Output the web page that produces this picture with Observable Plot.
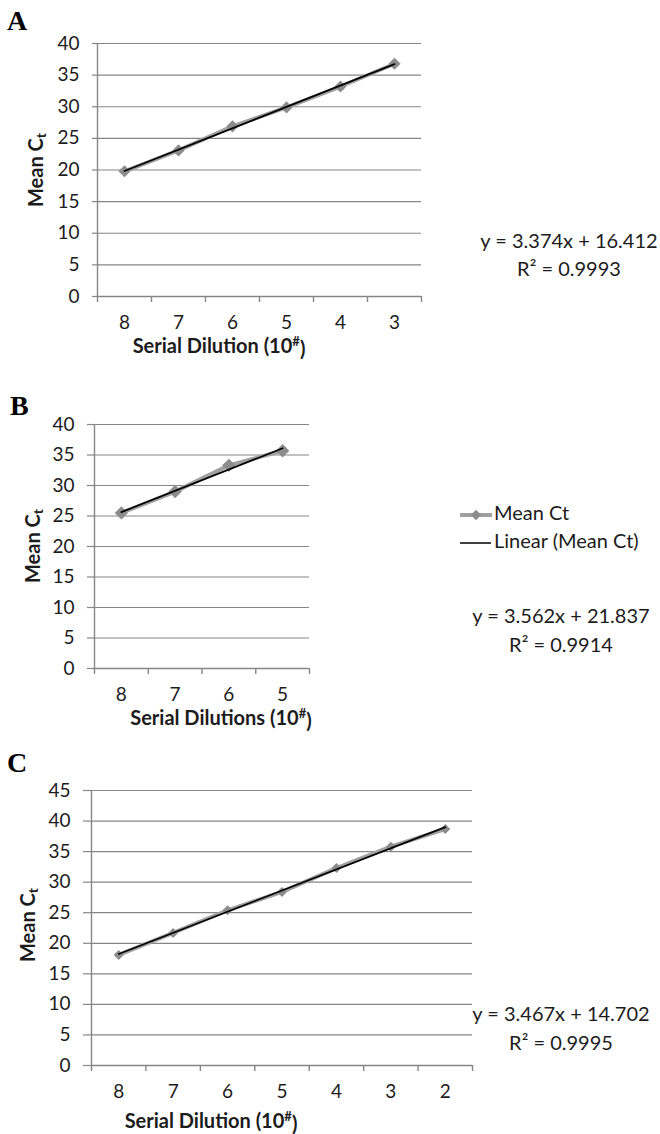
<!DOCTYPE html>
<html><head><meta charset="utf-8">
<script src="https://cdn.jsdelivr.net/npm/d3@7"></script>
<script src="https://cdn.jsdelivr.net/npm/@observablehq/plot@0.6"></script>
<style>
body{margin:0;background:#fff;}
#wrap{position:relative;width:660px;height:1134px;overflow:hidden;}
.panel{position:absolute;left:0;}
.panel svg{display:block;overflow:visible;}
</style></head><body><div id="wrap"></div>
<script>
// ---- data ----
const labelsA = ["8","7","6","5","4","3"];
const valuesA = [19.8, 23.1, 26.9, 29.9, 33.2, 36.8];
const yTicksA = [0,5,10,15,20,25,30,35,40];
const eqA = ["y = 3.374x + 16.412", "R² = 0.9993"];

const labelsB = ["8","7","6","5"];
const valuesB = [25.5, 29.0, 33.3, 35.7];
const yTicksB = [0,5,10,15,20,25,30,35,40];
const eqB = ["y = 3.562x + 21.837", "R² = 0.9914"];

const labelsC = ["8","7","6","5","4","3","2"];
const valuesC = [18.1, 21.7, 25.4, 28.4, 32.3, 35.8, 38.7];
const yTicksC = [0,5,10,15,20,25,30,35,40,45];
const eqC = ["y = 3.467x + 14.702", "R² = 0.9995"];

const seriesName = "Mean Ct";
const trendName = "Linear (Mean Ct)";

// ---- layout ----
const W = 660;
const GRID = "#868686";
const LINE = "#a0a0a0";
const MARK = "#8c8c8c";
const TXT = "#1c1c1c";
const FONT = "Lato, 'Open Sans', sans-serif";
const TICKFS = 19, TITLEFS = 20, EQFS = 20;

const panels = [
  {id:"A", labels:labelsA, values:valuesA, yTicks:yTicksA, eq:eqA, xTitle:"Serial Dilution (10",
   offset:0, h:370, left:97, right:421, top:43, bottom:296, tick:5, r:5.5,
   letter:[7,30], yTitle:[38,170], xTitleX:219, xTitleY:348, eqX:569, eqY:[243,271]},
  {id:"B", labels:labelsB, values:valuesB, yTicks:yTicksB, eq:eqB, xTitle:"Serial Dilutions (10",
   offset:370, h:370, left:94, right:309, top:424, bottom:668, tick:7, r:6,
   letter:[10,415], yTitle:[35,546], xTitleX:221, xTitleY:720, eqX:561, eqY:[618,647], legend:true},
  {id:"C", labels:labelsC, values:valuesC, yTicks:yTicksC, eq:eqC, xTitle:"Serial Dilution (10",
   offset:740, h:394, left:91, right:472, top:790, bottom:1065, tick:8, r:4.5,
   letter:[7,772], yTitle:[30,925], xTitleX:211, xTitleY:1123, eqX:561, eqY:[1016,1045]}
];

const wrap = document.getElementById("wrap");

for (const p of panels) {
  const n = p.labels.length;
  const data = p.labels.map((l, k) => ({i: k + 1, label: l, v: p.values[k]}));
  const yMax = p.yTicks[p.yTicks.length - 1];
  const top = p.top - p.offset, bottom = p.bottom - p.offset;
  const chart = Plot.plot({
    width: W, height: p.h,
    marginLeft: p.left, marginRight: W - p.right, marginTop: top, marginBottom: p.h - bottom,
    style: {fontFamily: FONT, fontSize: TICKFS + "px", color: TXT, background: "transparent"},
    x: {domain: [0.5, n + 0.5]},
    y: {domain: [0, yMax]},
    marks: [
      Plot.gridY(p.yTicks, {stroke: GRID, strokeOpacity: 1, strokeWidth: 1.2}),
      Plot.axisY(p.yTicks, {tickSize: p.tick, tickPadding: 13, stroke: GRID, strokeWidth: 1.2, label: null, fontSize: TICKFS, fill: TXT}),
      Plot.ruleX([0.5], {stroke: GRID, strokeWidth: 1.4}),
      Plot.ruleY([0], {stroke: GRID, strokeWidth: 1.6}),
      Plot.axisX(d3.range(0.5, n + 1, 1), {tickSize: 6, stroke: GRID, strokeWidth: 1.4, tickFormat: () => "", label: null}),
      Plot.axisX(d3.range(1, n + 1), {tickSize: 0, tickPadding: 19, tickFormat: d => p.labels[d - 1], label: null, fontSize: TICKFS, fill: TXT}),
      Plot.line(data, {x: "i", y: "v", stroke: LINE, strokeWidth: 4}),
      Plot.dot(data, {x: "i", y: "v", symbol: "diamond2", fill: MARK, r: p.r}),
      Plot.linearRegressionY(data, {x: "i", y: "v", stroke: "#000", strokeWidth: 1.7, ci: 0})
    ]
  });
  const div = document.createElement("div");
  div.className = "panel";
  div.style.top = p.offset + "px";
  div.appendChild(chart);
  wrap.appendChild(div);

  const svg = d3.select(chart);
  const oy = p.offset;
  // panel letter
  svg.append("text").attr("x", p.letter[0]).attr("y", p.letter[1] - oy)
    .attr("text-anchor", "start")
    .attr("font-family", "'Liberation Serif', 'DejaVu Serif', serif").attr("font-weight", "bold")
    .attr("font-size", 28).attr("fill", "#000").text(p.id);
  // y title
  const yt = svg.append("text")
    .attr("transform", `translate(${p.yTitle[0]},${p.yTitle[1] - oy}) rotate(-90)`)
    .attr("text-anchor", "middle").attr("dominant-baseline", "middle")
    .attr("font-family", FONT).attr("font-weight", "bold").attr("font-size", TITLEFS).attr("fill", TXT);
  yt.append("tspan").text("Mean C");
  yt.append("tspan").attr("dy", "0.3em").attr("font-size", 14).text("t");
  // x title
  const xt = svg.append("text").attr("x", p.xTitleX).attr("y", p.xTitleY - oy)
    .attr("text-anchor", "middle").attr("dominant-baseline", "middle")
    .attr("font-family", FONT).attr("font-weight", "bold").attr("font-size", TITLEFS).attr("fill", TXT);
  xt.append("tspan").text(p.xTitle);
  xt.append("tspan").attr("dy", "-0.4em").attr("font-size", 13).text("#");
  xt.append("tspan").attr("dy", "0.4em").text(")");
  // equation
  p.eq.forEach((s, k) => {
    svg.append("text").attr("x", p.eqX).attr("y", p.eqY[k] - oy)
      .attr("text-anchor", "middle").attr("dominant-baseline", "middle")
      .attr("font-family", FONT).attr("font-size", EQFS).attr("fill", TXT).text(s);
  });
  // legend
  if (p.legend) {
    const ly1 = 515 - oy, ly2 = 543 - oy;
    svg.append("line").attr("x1", 460).attr("x2", 492).attr("y1", ly1).attr("y2", ly1)
      .attr("stroke", LINE).attr("stroke-width", 4);
    svg.append("path").attr("d", d3.symbol(d3.symbolDiamond2, 70)())
      .attr("transform", `translate(476,${ly1})`).attr("fill", MARK);
    svg.append("text").attr("x", 494).attr("y", ly1).attr("text-anchor", "start").attr("dominant-baseline", "middle")
      .attr("font-family", FONT).attr("font-size", EQFS).attr("fill", TXT).text(seriesName);
    svg.append("line").attr("x1", 460).attr("x2", 491).attr("y1", ly2).attr("y2", ly2)
      .attr("stroke", "#000").attr("stroke-width", 1.5);
    svg.append("text").attr("x", 494).attr("y", ly2).attr("text-anchor", "start").attr("dominant-baseline", "middle")
      .attr("font-family", FONT).attr("font-size", EQFS).attr("fill", TXT).text(trendName);
  }
}
</script></body></html>
